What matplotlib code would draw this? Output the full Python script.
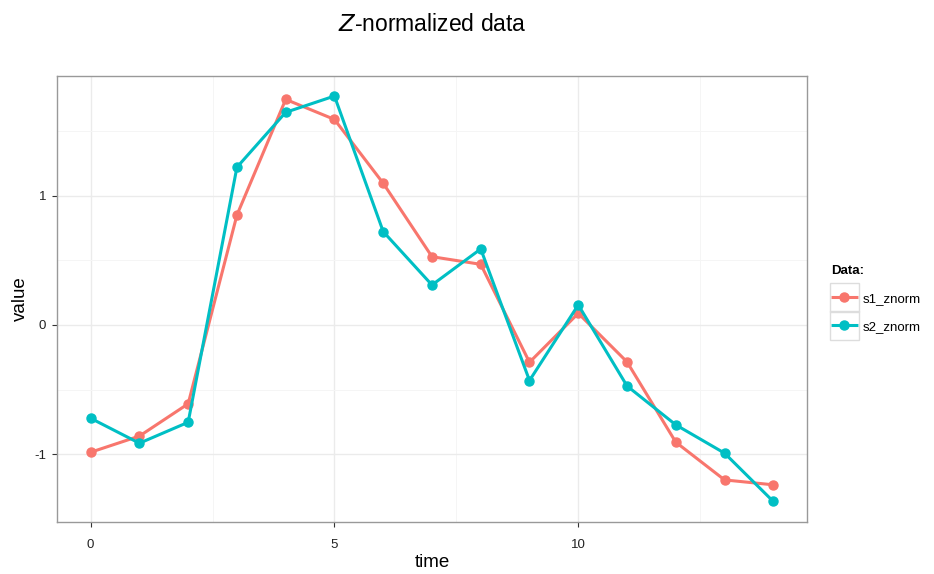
import numpy as np
import matplotlib
matplotlib.use("Agg")
import matplotlib.pyplot as plt
from matplotlib.patches import Rectangle

plt.rcParams['axes.unicode_minus'] = False
plt.rcParams['font.family'] = ['Liberation Sans', 'DejaVu Sans']

time = list(range(15))
s1_znorm = [-0.985, -0.86, -0.61, 0.85, 1.745, 1.59, 1.096, 0.528, 0.469,
            -0.289, 0.09, -0.286, -0.907, -1.199, -1.237]
s2_znorm = [-0.722, -0.915, -0.753, 1.22, 1.645, 1.771, 0.722, 0.309, 0.588,
            -0.43, 0.155, -0.472, -0.773, -0.992, -1.366]
series_names = ['s1_znorm', 's2_znorm']
colors = ['#F8766D', '#00BFC4']

fig = plt.figure(figsize=(9.34, 5.74), dpi=100)
ax = fig.add_axes([0.0605, 0.091, 0.804, 0.777])

for vals, name, c in zip([s1_znorm, s2_znorm], series_names, colors):
    ax.plot(time, vals, color=c, lw=2.2, marker='o', ms=6.5, label=name,
            solid_capstyle='butt')

# ggplot style 5% expansion
xmin, xmax = min(time), max(time)
xr = xmax - xmin
ax.set_xlim(xmin - 0.05 * xr, xmax + 0.05 * xr)
allv = s1_znorm + s2_znorm
ymin, ymax = min(allv), max(allv)
yr = ymax - ymin
ax.set_ylim(ymin - 0.05 * yr, ymax + 0.05 * yr)

ax.set_xticks([0, 5, 10])
ax.set_yticks([-1, 0, 1])
ax.set_xticks([2.5, 7.5, 12.5], minor=True)
ax.set_yticks([-0.5, 0.5, 1.5], minor=True)
ax.grid(which='major', color='#EBEBEB', lw=1.0)
ax.grid(which='minor', color='#F5F5F5', lw=0.7)
ax.set_axisbelow(True)
ax.tick_params(which='minor', length=0)
ax.tick_params(axis='x', which='major', pad=9)
ax.tick_params(axis='y', which='major', pad=4)
ax.tick_params(which='major', length=3.5, width=0.8, color='#333333',
               labelsize=9.5, labelcolor='#222222')
for sp in ax.spines.values():
    sp.set_color('#999999')
    sp.set_linewidth(1.0)

ax.set_xlabel('time', fontsize=13.5, labelpad=2)
ax.set_ylabel('value', fontsize=13.5, labelpad=4)
ax.set_title(r'$Z$-normalized data', fontsize=16.5, pad=32)

leg = ax.legend(title='Data:', loc='center left', bbox_to_anchor=(1.0, 0.5),
                frameon=False, fontsize=9.5, handlelength=2.0, handletextpad=0.35,
                labelspacing=1.2, borderaxespad=1.4)
leg.get_title().set_fontweight('bold')
leg.get_title().set_fontsize(9.5)
leg._legend_box.align = 'left'

# grey boxes around legend keys like ggplot
fig.canvas.draw()
r = fig.canvas.get_renderer()
W, H = fig.get_size_inches() * fig.dpi
for ln in leg.get_lines():
    bb = ln.get_window_extent(r)
    cx, cy = (bb.x0 + bb.x1) / 2, (bb.y0 + bb.y1) / 2
    s = 29
    fig.add_artist(Rectangle(((cx - s / 2) / W, (cy - s / 2) / H), s / W, s / H,
                             transform=fig.transFigure, fill=False,
                             edgecolor='#DDDDDD', lw=1.0))

fig.savefig('out.png', dpi=100)
